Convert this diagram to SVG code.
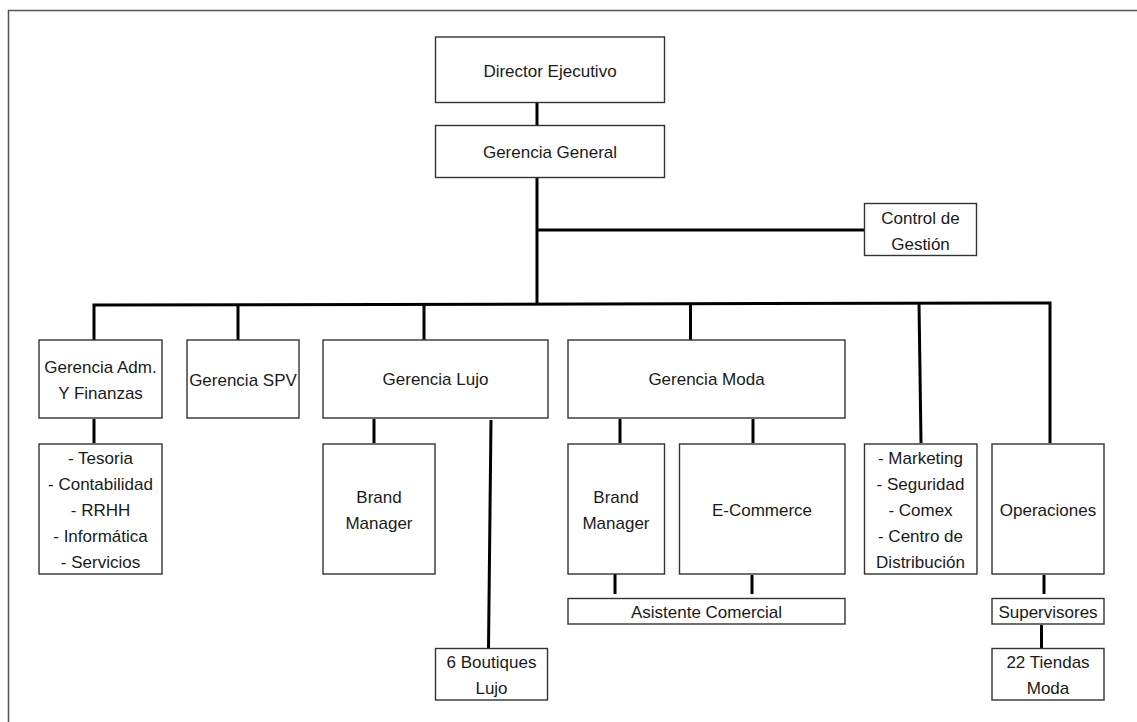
<svg xmlns="http://www.w3.org/2000/svg" width="1137" height="722" viewBox="0 0 1137 722">
<style>
.box{fill:#fff;stroke:#333;stroke-width:1.4}
.t{font-family:"Liberation Sans",Arial,sans-serif;font-size:17px;fill:#1a1a1a;text-anchor:middle;dominant-baseline:central}
.c{stroke:#000;stroke-width:3;fill:none;stroke-linecap:butt}
</style>
<rect x="0" y="0" width="1137" height="722" fill="#fff"/>
<rect x="8.5" y="10.5" width="1140" height="720" fill="none" stroke="#555" stroke-width="1.5"/>
<g id="connectors">
<line class="c" x1="537" y1="103" x2="537" y2="125"/>
<line class="c" x1="537" y1="178" x2="537" y2="305"/>
<line class="c" x1="537" y1="230" x2="864" y2="230"/>
<polyline class="c" points="94,340 94,305 1050,303 1050,443"/>
<line class="c" x1="238" y1="305" x2="238" y2="340"/>
<line class="c" x1="424" y1="305" x2="424" y2="340"/>
<line class="c" x1="690.5" y1="304" x2="690.5" y2="340"/>
<line class="c" x1="919" y1="303" x2="921" y2="443"/>
<line class="c" x1="94" y1="419" x2="94" y2="443"/>
<line class="c" x1="374" y1="419" x2="374" y2="443"/>
<line class="c" x1="491" y1="420" x2="488.5" y2="648"/>
<line class="c" x1="620" y1="419" x2="620" y2="443"/>
<line class="c" x1="753" y1="419" x2="753" y2="443"/>
<line class="c" x1="615" y1="574" x2="615" y2="594"/>
<line class="c" x1="752" y1="575" x2="752" y2="594"/>
<line class="c" x1="1044" y1="575" x2="1044" y2="594"/>
<line class="c" x1="1041.5" y1="625" x2="1041.5" y2="648"/>
</g>
<g id="director"><rect class="box" x="435.5" y="37" width="229" height="65.5"/><text class="t" x="550" y="71">Director Ejecutivo</text></g>
<g id="gerencia-general"><rect class="box" x="435.5" y="125.5" width="229" height="52"/><text class="t" x="550" y="152">Gerencia General</text></g>
<g id="control-gestion"><rect class="box" x="864.5" y="203.5" width="112" height="52"/><text class="t" x="920.5" y="218">Control de</text><text class="t" x="920.5" y="244">Gestión</text></g>
<g id="gerencia-adm"><rect class="box" x="39" y="340" width="123" height="78"/><text class="t" x="100.5" y="367">Gerencia Adm.</text><text class="t" x="100.5" y="393">Y Finanzas</text></g>
<g id="gerencia-spv"><rect class="box" x="187" y="340" width="112" height="78"/><text class="t" x="243" y="380">Gerencia SPV</text></g>
<g id="gerencia-lujo"><rect class="box" x="323" y="340" width="225" height="78"/><text class="t" x="435.5" y="379">Gerencia Lujo</text></g>
<g id="gerencia-moda"><rect class="box" x="568" y="340" width="277" height="78"/><text class="t" x="706.5" y="379">Gerencia Moda</text></g>
<g id="adm-areas"><rect class="box" x="39" y="444" width="123" height="130"/>
<text class="t" x="100.5" y="458">- Tesoria</text><text class="t" x="100.5" y="484">- Contabilidad</text><text class="t" x="100.5" y="510">- RRHH</text><text class="t" x="100.5" y="536">- Informática</text><text class="t" x="100.5" y="562">- Servicios</text></g>
<g id="brand-manager-lujo"><rect class="box" x="323" y="444" width="112" height="130"/><text class="t" x="379" y="497">Brand</text><text class="t" x="379" y="523">Manager</text></g>
<g id="brand-manager-moda"><rect class="box" x="568" y="444" width="96.5" height="130"/><text class="t" x="616" y="497">Brand</text><text class="t" x="616" y="523">Manager</text></g>
<g id="ecommerce"><rect class="box" x="679.5" y="444" width="165.5" height="130"/><text class="t" x="762" y="510">E-Commerce</text></g>
<g id="marketing"><rect class="box" x="864.5" y="444" width="112.5" height="130"/>
<text class="t" x="920.5" y="458">- Marketing</text><text class="t" x="920.5" y="484">- Seguridad</text><text class="t" x="920.5" y="510">- Comex</text><text class="t" x="920.5" y="536">- Centro de</text><text class="t" x="920.5" y="562">Distribución</text></g>
<g id="operaciones"><rect class="box" x="992" y="444" width="112" height="130"/><text class="t" x="1048" y="510">Operaciones</text></g>
<g id="asistente-comercial"><rect class="box" x="568" y="598.5" width="277" height="25.5"/><text class="t" x="706.5" y="612">Asistente Comercial</text></g>
<g id="supervisores"><rect class="box" x="992" y="598.5" width="112" height="25.5"/><text class="t" x="1048" y="612">Supervisores</text></g>
<g id="boutiques-lujo"><rect class="box" x="435.5" y="648.5" width="112" height="51.5"/><text class="t" x="491.5" y="662">6 Boutiques</text><text class="t" x="491.5" y="688">Lujo</text></g>
<g id="tiendas-moda"><rect class="box" x="992" y="648.5" width="112" height="51.5"/><text class="t" x="1048" y="662">22 Tiendas</text><text class="t" x="1048" y="688">Moda</text></g>
</svg>
